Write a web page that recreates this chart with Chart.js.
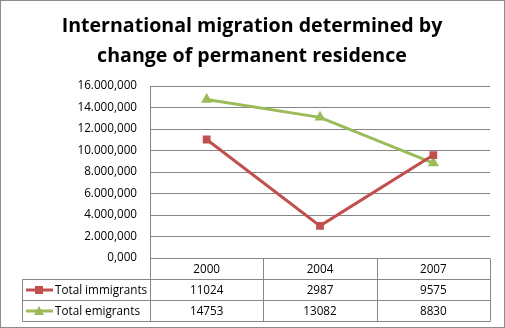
<!DOCTYPE html>
<html lang="en">
<head>
  <meta charset="UTF-8" />
  <title>International migration</title>
  <script src="https://cdn.jsdelivr.net/npm/chart.js"></script>
  <style>
    body { margin: 0; padding: 0; background: #fff; }
    #wrap { width: 505px; height: 328px; position: relative; }
  </style>
</head>
<body>
<div id="wrap"><canvas id="migChart" width="505" height="328"></canvas></div>

<script>
  // data
  const years = ['2000', '2004', '2007'];
  const immigrants = [11024, 2987, 9575];
  const emigrants = [14753, 13082, 8830];
  const seriesNames = ['Total immigrants', 'Total emigrants'];
  const titleLines = ['International migration determined by', 'change of permanent residence'];
  const yMax = 16000, yStep = 2000;

  const gridColor = '#868686';
  const font = '"Open Sans", sans-serif';

  // 16000 -> "16.000,000"
  function fmt(v) {
    const s = String(Math.round(v)).replace(/\B(?=(\d{3})+(?!\d))/g, '.');
    return s + ',000';
  }

  // title, data table and frame drawn on top of the chart
  const extras = {
    id: 'extras',
    afterDraw(chart) {
      const ctx = chart.ctx;
      const area = chart.chartArea;
      const x = chart.scales.x;
      const colW = (area.right - area.left) / years.length;
      ctx.save();

      // title
      ctx.fillStyle = '#000';
      ctx.font = 'bold 19.6px ' + font;
      ctx.textAlign = 'center';
      ctx.textBaseline = 'middle';
      ctx.fillText(titleLines[0], 252, 26);
      ctx.fillText(titleLines[1], 252, 56);

      // table grid
      const rowH = 21;
      const top = Math.round(area.bottom) + 0.5;
      const legLeft = 22.5;
      ctx.strokeStyle = gridColor;
      ctx.lineWidth = 1;
      ctx.beginPath();
      for (let r = 1; r <= 3; r++) {
        ctx.moveTo(legLeft, top + rowH * r);
        ctx.lineTo(area.right, top + rowH * r);
      }
      ctx.moveTo(legLeft, top + rowH);
      ctx.lineTo(legLeft, top + rowH * 3);
      for (let i = 0; i <= years.length; i++) {
        const px = Math.round(area.left + i * colW) + 0.5;
        ctx.moveTo(px, top);
        ctx.lineTo(px, top + rowH * 3);
      }
      ctx.stroke();

      // table text
      ctx.font = '11.7px ' + font;
      ctx.fillStyle = '#000';
      ctx.textAlign = 'center';
      const rows = [immigrants, emigrants];
      years.forEach((y, i) => {
        const cx = x.getPixelForValue(i);
        ctx.fillText(y, cx, top + rowH / 2 + 1);
        rows.forEach((r, j) => {
          ctx.fillText(String(r[i]), cx, top + rowH * (j + 1) + rowH / 2 + 1);
        });
      });

      // legend keys
      chart.data.datasets.forEach((ds, j) => {
        const cy = top + rowH * (j + 1) + rowH / 2;
        ctx.strokeStyle = ds.borderColor;
        ctx.lineWidth = 3;
        ctx.beginPath();
        ctx.moveTo(26, cy);
        ctx.lineTo(53, cy);
        ctx.stroke();
        ctx.fillStyle = ds.backgroundColor;
        if (ds.pointStyle === 'rect') {
          ctx.fillRect(35, cy - 4, 8, 8);
        } else {
          ctx.beginPath();
          ctx.moveTo(39, cy - 5);
          ctx.lineTo(44, cy + 4);
          ctx.lineTo(34, cy + 4);
          ctx.closePath();
          ctx.fill();
        }
        ctx.fillStyle = '#000';
        ctx.textAlign = 'left';
        ctx.fillText(seriesNames[j], 55, cy + 1);
      });

      // outer frame
      ctx.strokeStyle = '#8c8c8c';
      ctx.lineWidth = 1;
      ctx.strokeRect(0.5, 0.5, chart.width - 1, chart.height - 1);
      ctx.restore();
    }
  };

  new Chart(document.getElementById('migChart'), {
    type: 'line',
    data: {
      labels: years,
      datasets: [
        {
          label: seriesNames[0],
          data: immigrants,
          borderColor: '#C0504D',
          backgroundColor: '#C0504D',
          borderWidth: 3,
          pointStyle: 'rect',
          pointRadius: 5.5,
          pointBorderWidth: 0,
          tension: 0
        },
        {
          label: seriesNames[1],
          data: emigrants,
          borderColor: '#9BBB59',
          backgroundColor: '#9BBB59',
          borderWidth: 3,
          pointStyle: 'triangle',
          pointRadius: 6.5,
          pointBorderWidth: 0,
          tension: 0
        }
      ]
    },
    options: {
      responsive: false,
      animation: false,
      layout: { padding: { top: 86, bottom: 70, left: 0, right: 15 } },
      plugins: {
        legend: { display: false },
        title: { display: false },
        tooltip: { enabled: false }
      },
      scales: {
        x: {
          offset: true,
          ticks: { display: false },
          grid: { display: false, drawTicks: false },
          border: { display: false }
        },
        y: {
          min: 0,
          max: yMax,
          afterFit(scale) { scale.width = 150; },
          ticks: {
            stepSize: yStep,
            padding: 13,
            color: '#000',
            font: { family: font, size: 11.7 },
            callback: v => fmt(v)
          },
          grid: { color: gridColor, drawTicks: false },
          border: { color: gridColor }
        }
      }
    },
    plugins: [extras]
  });
</script>
</body>
</html>
